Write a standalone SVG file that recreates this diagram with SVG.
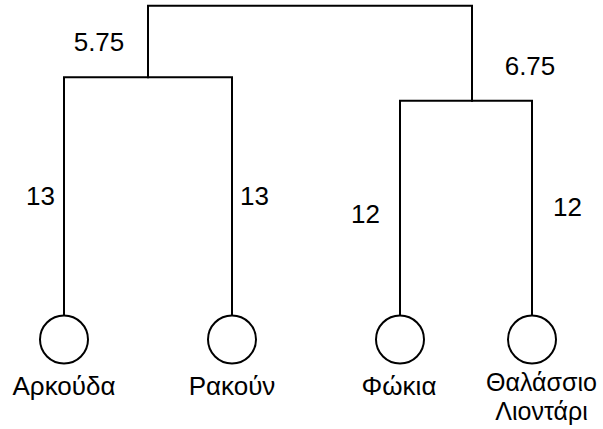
<svg xmlns="http://www.w3.org/2000/svg" width="603" height="429" viewBox="0 0 603 429">
  <style>
    .edge { fill: none; stroke: #000; stroke-width: 2; stroke-linejoin: miter; stroke-linecap: square; }
    .leaf { fill: #fff; stroke: #000; stroke-width: 2; }
    text { font-family: "Liberation Sans", Arial, Helvetica, sans-serif; font-size: 26px; fill: #000; }
    .mid { text-anchor: middle; }
    .end { text-anchor: end; }
    .wrap { font-size: 25px; }
  </style>
  <rect width="603" height="429" fill="#fff"/>

  <!-- tree branches -->
  <g id="connectors">
    <path class="edge" d="M148,77.3 V5.7 H472 V100.7"/>
    <path class="edge" d="M64,315.5 V77.3 H232 V315.5"/>
    <path class="edge" d="M400,315.5 V100.7 H532 V315.5"/>
  </g>

  <!-- branch lengths -->
  <g id="weights">
    <text x="99" y="51" class="mid">5.75</text>
    <text x="530" y="75" class="mid">6.75</text>
    <text x="55" y="205" class="end">13</text>
    <text x="240" y="205">13</text>
    <text x="380" y="222.7" class="end">12</text>
    <text x="553" y="216">12</text>
  </g>

  <!-- leaves -->
  <g id="leaf-bear">
    <circle class="leaf" cx="64" cy="339.5" r="24"/>
    <text x="64" y="395" class="mid">Αρκούδα</text>
  </g>
  <g id="leaf-raccoon">
    <circle class="leaf" cx="232" cy="339.5" r="24"/>
    <text x="232" y="395" class="mid">Ρακούν</text>
  </g>
  <g id="leaf-seal">
    <circle class="leaf" cx="400" cy="339.5" r="24"/>
    <text x="399" y="395" class="mid">Φώκια</text>
  </g>
  <g id="leaf-sealion">
    <circle class="leaf" cx="532" cy="339.5" r="24"/>
    <text x="541.5" y="391" class="mid wrap">Θαλάσσιο</text>
    <text x="541.5" y="419.5" class="mid wrap">Λιοντάρι</text>
  </g>
</svg>
